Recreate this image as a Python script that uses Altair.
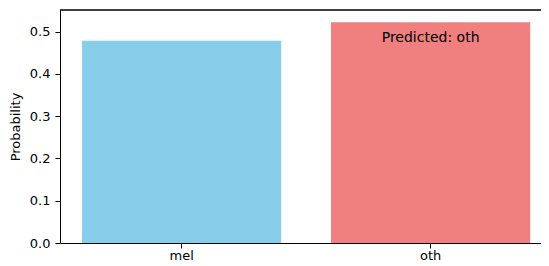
import altair as alt
import pandas as pd

classes = ["mel", "oth"]
probabilities = [0.478, 0.522]
bar_colors = ["#87CEEB", "#F08080"]
predicted = "oth"
y_ticks = [0.0, 0.1, 0.2, 0.3, 0.4, 0.5]
title_text = "Class Probabilities"
y_title = "Probability"

df = pd.DataFrame({"cls": classes, "prob": probabilities})

W, H = 481, 233
FONT = "DejaVu Sans"

x_enc = alt.X(
    "cls:N",
    sort=classes,
    scale=alt.Scale(paddingInner=0.2, paddingOuter=0.0659, align=0.671),
    axis=alt.Axis(
        title=None, labelAngle=0, labelFontSize=13, labelFont=FONT,
        labelColor="black", tickSize=5, tickColor="black", tickWidth=1,
        labelPadding=1, domainColor="black", domainWidth=1, grid=False,
    ),
)
y_enc = alt.Y(
    "prob:Q",
    scale=alt.Scale(domain=[0, 0.551], nice=False, zero=True),
    axis=alt.Axis(
        title=y_title, values=y_ticks, format=".1f", labelFontSize=13,
        labelFont=FONT, labelColor="black", tickSize=5, tickColor="black",
        tickWidth=1, labelPadding=5, domainColor="black", domainWidth=1,
        grid=False, titleFontSize=13, titleFont=FONT, titleFontWeight="normal",
        titleColor="black", titleX=-45, titleY=H / 2, titleAngle=-90,
        titleAlign="center", titleBaseline="middle",
    ),
)

bars = alt.Chart(df).mark_bar().encode(
    x=x_enc,
    y=y_enc,
    color=alt.Color("cls:N", scale=alt.Scale(domain=classes, range=bar_colors), legend=None),
)

label = alt.Chart(df).transform_filter(
    alt.datum.cls == predicted
).mark_text(
    baseline="top", align="center", dy=9, fontSize=14, font=FONT, color="black"
).encode(
    x=x_enc,
    y=y_enc,
    text=alt.value(f"Predicted: {predicted}"),
)

top_spine = alt.Chart(df).mark_rule(color="black", strokeWidth=1).encode(
    x=alt.value(0), x2=alt.value(W), y=alt.value(0)
)

chart = alt.layer(bars, label, top_spine).properties(
    width=W,
    height=H,
    title=alt.Title(title_text, fontSize=15.5, font=FONT, fontWeight="normal", color="black", offset=5),
    padding={"left": 52, "top": 2, "right": 0, "bottom": 19},
    autosize=alt.AutoSizeParams(type="none"),
    background="white",
).configure_view(stroke=None)

chart.save("out.html", embed_options={"renderer": "svg", "actions": False})
